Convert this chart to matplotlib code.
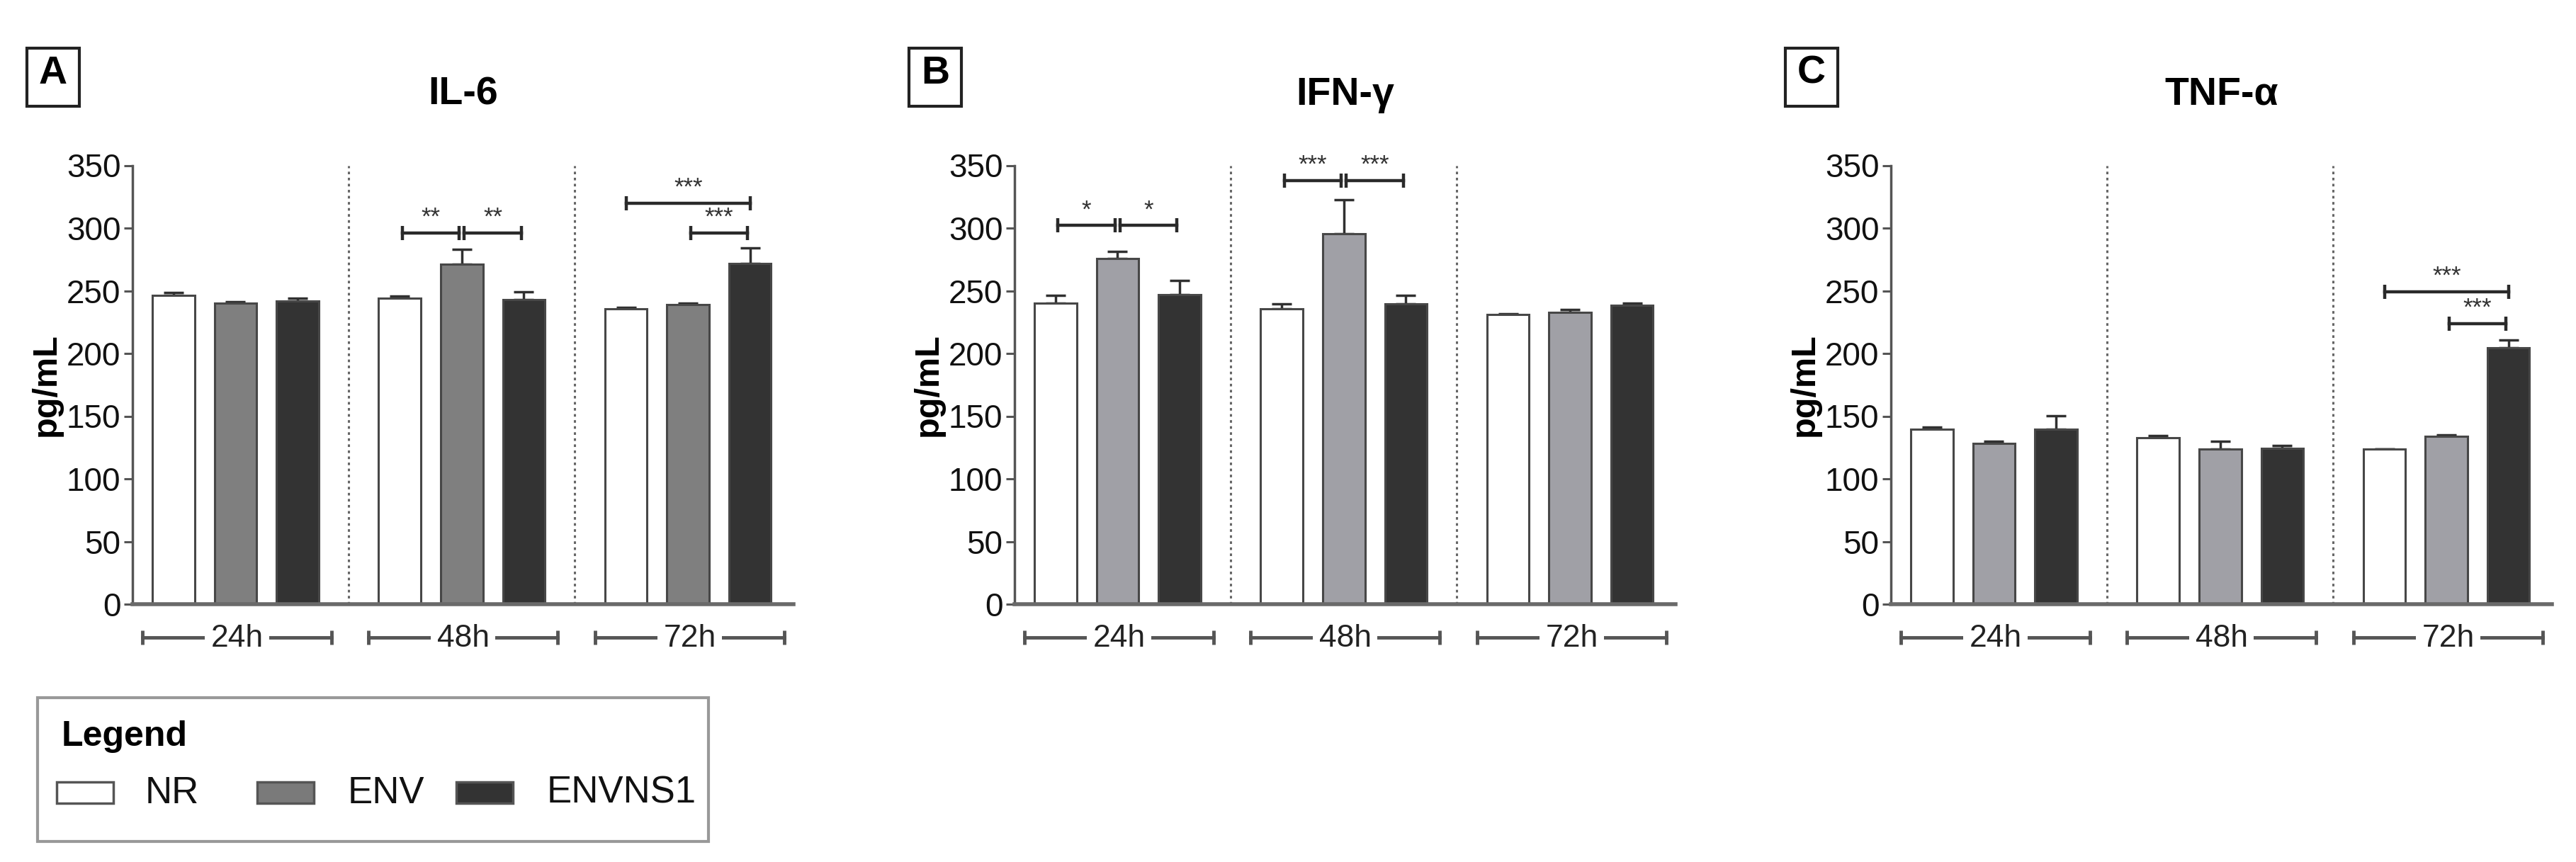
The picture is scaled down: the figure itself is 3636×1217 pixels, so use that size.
import matplotlib
matplotlib.use('Agg')
import matplotlib.pyplot as plt
from matplotlib import font_manager
from matplotlib.patches import Rectangle

# data (pg/mL), one row per time point: NR, ENV, ENVNS1
groups = ['24h', '48h', '72h']
series = ['NR', 'ENV', 'ENVNS1']

il6_mean = [[246.5, 240, 242], [244, 271, 243], [235.5, 239, 272]]
il6_err = [[2, 1, 2], [2, 12, 6], [1, 1, 12]]

ifng_mean = [[240, 275.5, 247], [235.5, 295.5, 239.5], [231, 233, 238.5]]
ifng_err = [[6.5, 6, 11], [4, 27, 7], [0.5, 2, 1.5]]

tnfa_mean = [[139.5, 128.5, 139.5], [132.5, 124, 124.5], [123.5, 134, 204.5]]
tnfa_err = [[1.5, 1.5, 11], [2, 6, 2], [0.5, 1, 6]]

# significance: (bar i, bar j, height, stars); bars numbered 0..8
il6_sig = [(3, 4, 296, '**'), (4, 5, 296, '**'), (6, 8, 320, '***'), (7, 8, 296, '***')]
ifng_sig = [(0, 1, 302, '*'), (1, 2, 302, '*'), (3, 4, 338, '***'), (4, 5, 338, '***')]
tnfa_sig = [(6, 8, 249, '***'), (7, 8, 224, '***')]

names = {f.name for f in font_manager.fontManager.ttflist}
NARROW = 'Liberation Sans Narrow' if 'Liberation Sans Narrow' in names else 'Liberation Sans'
BOLD = 'Liberation Sans'
plt.rcParams['font.family'] = [NARROW, 'DejaVu Sans']

W, H = 3637, 1217
fig = plt.figure(figsize=(W / 100, H / 100), dpi=100)

AX_W, AX_H = 933, 619.5
AX_BOTTOM = 853
AXIS_COL = '#555555'
EDGE = '#474747'
WHITE = '#ffffff'
DARK = '#333333'

group_start = [0, 3.65, 7.3]
bar_w = 0.68

panels = [
    ('A', 'IL-6', 187, il6_mean, il6_err, il6_sig, '#7f7f7f'),
    ('B', 'IFN-γ', 1432, ifng_mean, ifng_err, ifng_sig, '#a0a0a6'),
    ('C', 'TNF-α', 2669, tnfa_mean, tnfa_err, tnfa_sig, '#a0a0a6'),
]

ov = fig.add_axes([0, 0, 1, 1])
ov.set_xlim(0, W)
ov.set_ylim(H, 0)
ov.axis('off')
ov.patch.set_alpha(0)

for letter, title, left, means, errs, sigs, env_col in panels:
    ax = fig.add_axes([left / W, 1 - AX_BOTTOM / H, AX_W / W, AX_H / H])
    cols = [WHITE, env_col, DARK]
    xs_all = []
    for gi, g in enumerate(groups):
        xs = [group_start[gi] + k for k in range(3)]
        xs_all += xs
        for k in range(3):
            ax.bar(xs[k], means[gi][k], width=bar_w, color=cols[k], edgecolor=EDGE,
                   linewidth=2.2, zorder=2,
                   yerr=[[0], [errs[gi][k]]], capsize=10,
                   error_kw=dict(ecolor='#303030', elinewidth=2.5, capthick=2.5, zorder=1))
        # time point bracket under the axis
        x0, x1 = xs[0] - 0.5, xs[2] + 0.55
        tr = ax.get_xaxis_transform()
        ax.plot([x0, x1], [-0.076, -0.076], color='#555555', lw=3.5, marker='|',
                markersize=14, mew=3.5, transform=tr, clip_on=False)
        ax.text((x0 + x1) / 2, -0.079, g, transform=tr, ha='center', va='center',
                fontsize=32, color='#222222',
                bbox=dict(facecolor='white', edgecolor='none', pad=6))

    for xd in [(group_start[0] + 2 + group_start[1]) / 2, (group_start[1] + 2 + group_start[2]) / 2]:
        ax.plot([xd, xd], [0, 350], color='#666666', lw=2.2, ls=(0, (1.2, 1.6)), zorder=1)

    for i, j, y, stars in sigs:
        a, b = xs_all[i], xs_all[j]
        if j - i == 1:
            a, b = a + 0.04, b - 0.04
        ax.plot([a, b], [y, y], color='#2a2a2a', lw=3.2, marker='|', markersize=15,
                mew=3.2, clip_on=False, zorder=3)
        ax.text((a + b) / 2, y + 3, stars, ha='center', va='bottom', fontsize=25,
                family=BOLD, color='#333333')

    ax.set_xlim(-0.66, 10.0)
    ax.set_ylim(0, 350)
    ax.set_yticks(range(0, 351, 50))
    ax.set_xticks([])
    for s in ['top', 'right']:
        ax.spines[s].set_visible(False)
    ax.spines['left'].set_color(AXIS_COL)
    ax.spines['left'].set_linewidth(2.5)
    ax.spines['bottom'].set_color('#6a6a6a')
    ax.spines['bottom'].set_linewidth(4)
    ax.tick_params(axis='y', length=9, width=2.2, color=AXIS_COL, labelsize=33,
                   labelcolor='#111111', pad=3)
    ax.set_ylabel('pg/mL', fontsize=35, fontweight='bold', family=BOLD)
    ax.yaxis.set_label_coords(-0.106, 0.5)
    ax.patch.set_alpha(0)

    cx = left + AX_W / 2
    ov.text(cx, 134, title, ha='center', va='center', fontsize=40, fontweight='bold',
            family=[BOLD, 'DejaVu Sans'])
    bx = left - 149
    ov.add_patch(Rectangle((bx, 68), 74, 82, fill=False, edgecolor='#222222', lw=3))
    ov.text(bx + 37, 104, letter, ha='center', va='center', fontsize=40,
            fontweight='bold', family=BOLD)

# legend box
ov.add_patch(Rectangle((53, 985), 947, 203, fill=False, edgecolor='#999999', lw=3))
ov.text(87, 1040, 'Legend', ha='left', va='center', fontsize=36, fontweight='bold', family=BOLD)
leg_cols = [WHITE, '#7a7a7a', DARK]
leg_sw = [80, 363, 644]
leg_tx = [205, 491, 772]
for k, name in enumerate(series):
    ov.add_patch(Rectangle((leg_sw[k], 1104), 80, 30, facecolor=leg_cols[k],
                           edgecolor='#555555', lw=2.5))
    ov.text(leg_tx[k], 1120, name, ha='left', va='center', fontsize=38, color='#111111')

fig.savefig('out.png', dpi=100, facecolor='white')
